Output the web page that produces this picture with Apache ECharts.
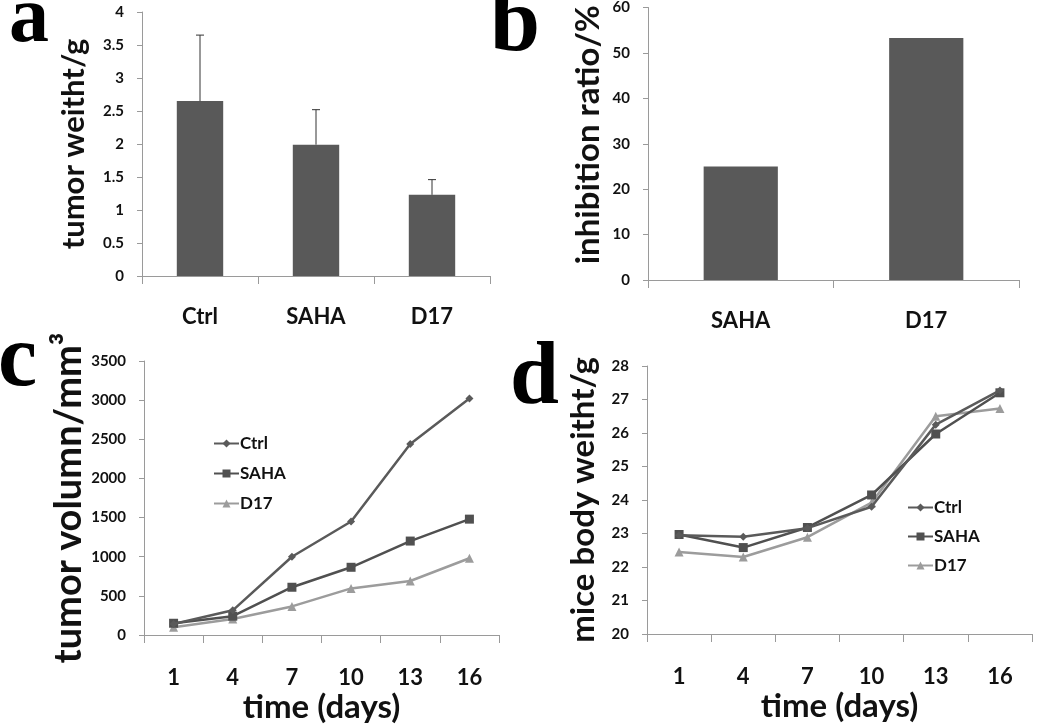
<!DOCTYPE html>
<html>
<head>
<meta charset="utf-8">
<title>tumor chart</title>
<script src="https://cdn.jsdelivr.net/npm/echarts@6/dist/echarts.min.js"></script>
<style>
  html, body { margin: 0; padding: 0; background: #fff; }
  #main { width: 1050px; height: 727px; }
</style>
</head>
<body>
<div id="main"></div>
<script>
    // panel a
    var weightCats = ['Ctrl', 'SAHA', 'D17'];
    var weightMean = [2.65, 1.99, 1.23];
    var weightErr = [1.0, 0.53, 0.23];
    // panel b
    var inhibCats = ['SAHA', 'D17'];
    var inhibRatio = [25, 53.3];
    // panels c, d
    var days = ['1', '4', '7', '10', '13', '16'];
    var volCtrl = [140, 315, 1000, 1450, 2440, 3020];
    var volSaha = [150, 240, 610, 865, 1200, 1480];
    var volD17 = [100, 205, 365, 595, 690, 980];
    var bodyCtrl = [22.95, 22.9, 23.16, 23.8, 26.25, 27.27];
    var bodySaha = [22.97, 22.58, 23.18, 24.15, 25.97, 27.2];
    var bodyD17 = [22.45, 22.3, 22.89, 23.92, 26.5, 26.73];

    var FONT = 'Lato';
    var WEIGHT = 'bold';
    var barColor = '#595959';
    var axisColor = '#9a9a9a';

    function catAxis(grid, cats, size, margin, name) {
        var ax = {
            type: 'category',
            gridIndex: grid,
            data: cats,
            boundaryGap: true,
            axisLine: {lineStyle: {color: axisColor, width: 1}},
            axisTick: {show: true, length: 8, lineStyle: {color: axisColor}},
            axisLabel: {color: '#111', fontFamily: FONT, fontWeight: WEIGHT, fontSize: size, margin: margin}
        };
        if (name) {
            ax.name = name;
            ax.nameLocation = 'middle';
            ax.nameGap = 56;
            ax.nameTextStyle = {color: '#111', fontFamily: FONT, fontWeight: WEIGHT, fontSize: 33};
        }
        return ax;
    }

    function valAxis(grid, min, max, interval, name, nameSize, nameGap, pad) {
        return {
            type: 'value',
            gridIndex: grid,
            min: min,
            max: max,
            interval: interval,
            name: name,
            nameLocation: 'middle',
            nameGap: nameGap,
            nameTextStyle: {color: '#111', fontFamily: FONT, fontWeight: WEIGHT, fontSize: nameSize, padding: pad || 0},
            splitLine: {show: false},
            axisLine: {show: true, lineStyle: {color: axisColor, width: 1}},
            axisTick: {show: true, length: 5, lineStyle: {color: axisColor}},
            axisLabel: {
                color: '#111', fontFamily: FONT, fontWeight: WEIGHT, fontSize: 15, margin: 18,
                formatter: function(v) { return String(v); }
            }
        };
    }

    var styles = {
        Ctrl: {color: '#5a5a5a', symbol: 'diamond', size: 8},
        SAHA: {color: '#505050', symbol: 'rect', size: 9},
        D17: {color: '#9c9c9c', symbol: 'triangle', size: 9}
    };

    function lineSeries(name, grid, data) {
        var s = styles[name];
        return {
            name: name,
            type: 'line',
            xAxisIndex: grid,
            yAxisIndex: grid,
            data: data,
            symbol: s.symbol,
            symbolSize: s.size,
            color: s.color,
            lineStyle: {color: s.color, width: 2.5},
            itemStyle: {color: s.color},
            z: name === 'D17' ? 3 : (name === 'SAHA' ? 4 : 5)
        };
    }

    var errData = weightCats.map(function(c, i) {
        return [i, weightMean[i], weightMean[i] + weightErr[i]];
    });

    var letters = [
        {text: 'a', x: 9, y: -20, size: 80},
        {text: 'b', x: 490, y: -18, size: 90},
        {text: 'c', x: -2, y: 318, size: 88},
        {text: 'd', x: 510, y: 336, size: 88}
    ];

    var legendText = {color: '#111', fontFamily: FONT, fontWeight: WEIGHT, fontSize: 17, padding: [0, 0, 0, -4]};

    var option = {
        backgroundColor: '#fff',
        animation: false,
        grid: [
            {left: 142, right: 560, top: 12, bottom: 451},
            {left: 648, right: 31, top: 6, bottom: 447},
            {left: 144, right: 551, top: 361, bottom: 92},
            {left: 647, right: 18, top: 366, bottom: 93}
        ],
        xAxis: [
            catAxis(0, weightCats, 22, 30),
            catAxis(1, inhibCats, 22, 30),
            catAxis(2, days, 22, 32, 'time (days)'),
            catAxis(3, days, 22, 32, 'time (days)')
        ],
        yAxis: [
            valAxis(0, 0, 4, 0.5, 'tumor weitht/g', 31, 53),
            valAxis(1, 0, 60, 10, 'inhibition ratio/%', 33, 43, [0, 0, 0, 18]),
            valAxis(2, 0, 3500, 500, 'tumor volumn/mm\u00b3', 38, 54),
            valAxis(3, 20, 28, 1, 'mice body weitht/g', 33, 47)
        ],
        legend: [
            {
                data: ['Ctrl', 'SAHA', 'D17'],
                orient: 'vertical',
                left: 208,
                top: 430,
                itemWidth: 25,
                itemHeight: 10,
                itemGap: 13,
                selectedMode: false,
                textStyle: legendText
            },
            {
                data: ['Ctrl', 'SAHA', 'D17'],
                orient: 'vertical',
                left: 902,
                top: 494,
                itemWidth: 25,
                itemHeight: 10,
                itemGap: 12,
                selectedMode: false,
                textStyle: legendText
            }
        ],
        graphic: letters.map(function(l) {
            return {
                type: 'text',
                left: l.x,
                top: l.y,
                style: {text: l.text, font: 'bold ' + l.size + 'px "Liberation Serif", "DejaVu Serif", serif', fill: '#000'}
            };
        }),
        series: [
            {
                type: 'bar',
                xAxisIndex: 0,
                yAxisIndex: 0,
                data: weightMean,
                barWidth: '40%',
                itemStyle: {color: barColor}
            },
            {
                type: 'custom',
                xAxisIndex: 0,
                yAxisIndex: 0,
                data: errData,
                z: 5,
                renderItem: function(params, api) {
                    var base = api.coord([api.value(0), api.value(1)]);
                    var top = api.coord([api.value(0), api.value(2)]);
                    return {
                        type: 'group',
                        children: [
                            {type: 'line', shape: {x1: base[0], y1: base[1], x2: top[0], y2: top[1]}, style: {stroke: '#333', lineWidth: 1}},
                            {type: 'line', shape: {x1: top[0] - 4, y1: top[1], x2: top[0] + 4, y2: top[1]}, style: {stroke: '#333', lineWidth: 1}}
                        ]
                    };
                }
            },
            {
                type: 'bar',
                xAxisIndex: 1,
                yAxisIndex: 1,
                data: inhibRatio,
                barWidth: '40%',
                itemStyle: {color: barColor}
            },
            lineSeries('D17', 2, volD17),
            lineSeries('SAHA', 2, volSaha),
            lineSeries('Ctrl', 2, volCtrl),
            lineSeries('D17', 3, bodyD17),
            lineSeries('SAHA', 3, bodySaha),
            lineSeries('Ctrl', 3, bodyCtrl)
        ]
    };

    var myChart = echarts.init(document.getElementById('main'));
    myChart.setOption(option);
</script>
</body>
</html>
